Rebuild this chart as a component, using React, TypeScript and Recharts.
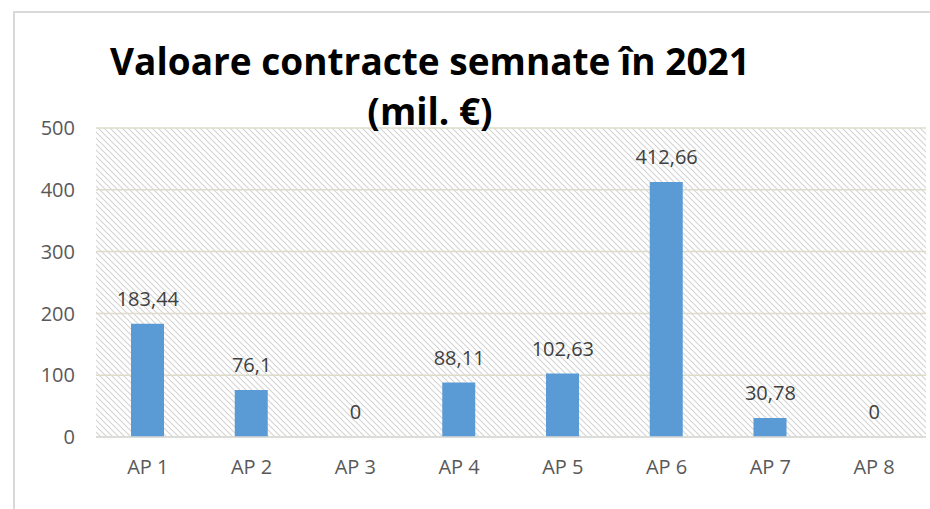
import { ComposedChart, Bar, Line, XAxis, YAxis, CartesianGrid, LabelList } from 'recharts';

const categories = ['AP 1', 'AP 2', 'AP 3', 'AP 4', 'AP 5', 'AP 6', 'AP 7', 'AP 8'];
const values = [183.44, 76.1, 0, 88.11, 102.63, 412.66, 30.78, 0];
const yTicks = [0, 100, 200, 300, 400, 500];

const data = categories.map((name, i) => ({ name, value: values[i] }));

const fmt = (v: number) => String(v).replace('.', ',');
const tickStyle = { fontSize: 20, fill: '#595959', fontFamily: 'Open Sans' };

export default function App() {
  return (
    <div style={{ position: 'fixed', left: 0, top: 0, width: 930, height: 509, background: '#fff', overflow: 'hidden' }}>
      <svg width={0} height={0} style={{ position: 'absolute' }}>
        <defs>
          <pattern id="hatch" patternUnits="userSpaceOnUse" width={6} height={6}>
            <path d="M-1,-1 L7,7 M-1,5 L1,7 M5,-1 L7,1" stroke="#d3d3d3" strokeWidth={1.1} />
          </pattern>
        </defs>
      </svg>
      <div style={{ position: 'absolute', left: 13, top: 11, width: 940, height: 520, borderLeft: '2px solid #d9d9d9', borderTop: '2px solid #d9d9d9' }} />
      <ComposedChart width={930} height={509} data={data} margin={{ top: 128, right: 4, left: 36, bottom: 32 }} style={{ position: 'absolute', left: 0, top: 0 }}>
        <CartesianGrid vertical={false} stroke="#dddccb" strokeWidth={1.5} fill="url(#hatch)" />
        <XAxis dataKey="name" tick={tickStyle} tickLine={false} tickSize={0} tickMargin={23} height={40} axisLine={{ stroke: '#d9d9d9', strokeWidth: 1.5 }} />
        <YAxis domain={[0, 500]} ticks={yTicks} tick={tickStyle} tickLine={false} tickSize={0} tickMargin={21} width={60} axisLine={false} />
        <Bar dataKey="value" fill="#5b9bd5" barSize={33} isAnimationActive={false} />
        <Line dataKey="value" stroke="none" dot={false} activeDot={false} isAnimationActive={false}>
          <LabelList dataKey="value" position="top" offset={18} formatter={(v: any) => fmt(Number(v))} style={{ fontSize: 20, fill: '#404040', fontFamily: 'Open Sans' }} />
        </Line>
      </ComposedChart>
      <div style={{ position: 'absolute', left: 0, width: 860, top: 36, textAlign: 'center', fontFamily: 'Open Sans', fontWeight: 700, fontSize: 37, lineHeight: '50px', color: '#000' }}>
        Valoare contracte semnate în 2021
        <br />
        (mil. €)
      </div>
    </div>
  );
}
